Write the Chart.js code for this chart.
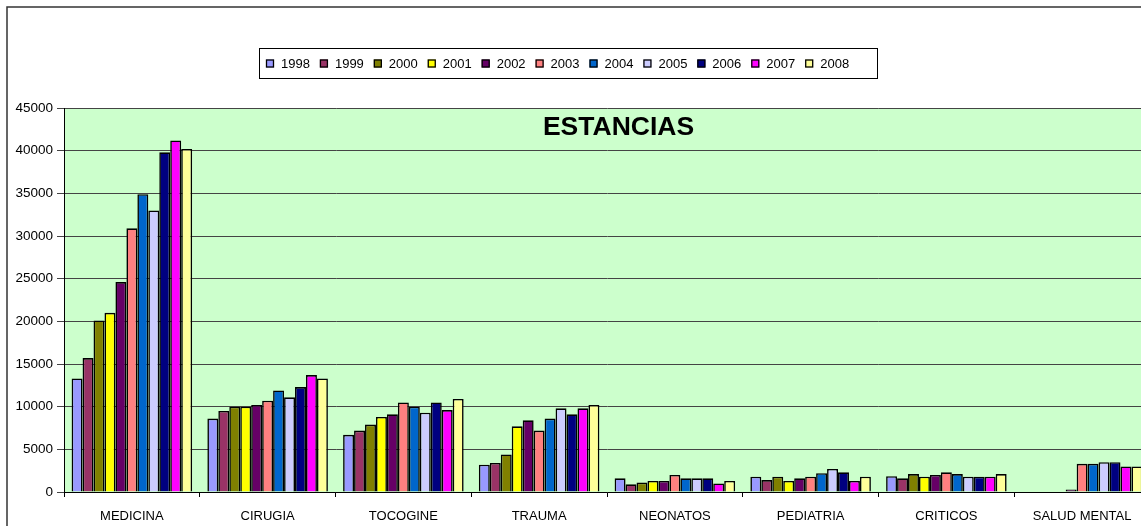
<!DOCTYPE html>
<html>
<head>
<meta charset="utf-8">
<script src="https://cdn.jsdelivr.net/npm/chart.js@4.4.1/dist/chart.umd.min.js"></script>
<style>
  html, body { margin: 0; padding: 0; overflow: hidden; background: #ffffff; }
  #wrap { width: 1150px; height: 526px; }
  canvas { display: block; }
</style>
</head>
<body>
<div id="wrap"><canvas id="c" width="1150" height="526" style="width:1150px;height:526px"></canvas></div>
<script>
const categories = ['MEDICINA', 'CIRUGIA', 'TOCOGINE', 'TRAUMA', 'NEONATOS', 'PEDIATRIA', 'CRITICOS', 'SALUD MENTAL'];
const years = ['1998', '1999', '2000', '2001', '2002', '2003', '2004', '2005', '2006', '2007', '2008'];
const yearColors = ['#9999FF', '#993366', '#808000', '#FFFF00', '#660066', '#FF8080', '#0066CC', '#CCCCFF', '#000080', '#FF00FF', '#FFFF99'];

const v1998 = [13300, 8600, 6700, 3200, 1600, 1800, 1850, 0];
const v1999 = [15700, 9500, 7200, 3400, 900, 1400, 1600, 0];
const v2000 = [20100, 10000, 7900, 4400, 1100, 1800, 2100, 0];
const v2001 = [21000, 10000, 8800, 7700, 1300, 1300, 1800, 0];
const v2002 = [24600, 10200, 9100, 8400, 1300, 1600, 2000, 300];
const v2003 = [30900, 10700, 10500, 7200, 2000, 1800, 2300, 3300];
const v2004 = [34900, 11900, 10000, 8600, 1600, 2200, 2100, 3300];
const v2005 = [33000, 11100, 9300, 9800, 1600, 2700, 1800, 3500];
const v2006 = [39800, 12300, 10500, 9100, 1600, 2300, 1800, 3500];
const v2007 = [41200, 13700, 9600, 9800, 1000, 1300, 1800, 3000];
const v2008 = [40200, 13300, 10900, 10200, 1300, 1800, 2100, 3000];
const seriesValues = [v1998, v1999, v2000, v2001, v2002, v2003, v2004, v2005, v2006, v2007, v2008];

const yMin = 0, yMax = 45000, yStep = 5000;
const chartTitle = 'ESTANCIAS';

const FONT = "'Liberation Sans', Arial, sans-serif";

const datasets = years.map((y, i) => ({
  label: y,
  data: seriesValues[i],
  backgroundColor: yearColors[i],
  borderColor: '#000000',
  borderWidth: 1.6,
  barPercentage: 1.0,
  categoryPercentage: 0.888
}));

const decorPlugin = {
  id: 'decor',
  beforeDraw(chart) {
    const ctx = chart.ctx;
    const a = chart.chartArea;
    ctx.save();
    ctx.fillStyle = '#ffffff';
    ctx.fillRect(0, 0, chart.width, chart.height);
    ctx.strokeStyle = '#333333';
    ctx.lineWidth = 1.5;
    ctx.beginPath();
    ctx.moveTo(7, chart.height + 5);
    ctx.lineTo(7, 7);
    ctx.lineTo(chart.width + 5, 7);
    ctx.stroke();
    ctx.fillStyle = '#CCFFCC';
    ctx.fillRect(a.left, a.top, a.right - a.left, a.bottom - a.top);
    ctx.restore();
  },
  afterDraw(chart) {
    const ctx = chart.ctx;
    ctx.save();
    ctx.font = "bold 26.5px " + FONT;
    ctx.fillStyle = '#000000';
    ctx.textAlign = 'center';
    ctx.textBaseline = 'middle';
    ctx.fillText(chartTitle, 618.5, 128);
    const lx = 259.5, ly = 48.5, lw = 618, lh = 30;
    ctx.fillStyle = '#ffffff';
    ctx.fillRect(lx, ly, lw, lh);
    ctx.strokeStyle = '#000000';
    ctx.lineWidth = 1;
    ctx.strokeRect(lx, ly, lw, lh);
    ctx.font = "13px " + FONT;
    ctx.textAlign = 'left';
    ctx.textBaseline = 'middle';
    let x = 266;
    const cy = 63.5;
    chart.data.datasets.forEach(ds => {
      ctx.fillStyle = ds.backgroundColor;
      ctx.fillRect(x, cy - 4, 8, 8);
      ctx.strokeStyle = '#000000';
      ctx.lineWidth = 1.3;
      ctx.strokeRect(x + 0.5, cy - 3.5, 7, 7);
      ctx.fillStyle = '#000000';
      const tx = x + 15;
      ctx.fillText(ds.label, tx, cy + 0.5);
      x = tx + ctx.measureText(ds.label).width + 10;
    });
    ctx.restore();
  }
};

new Chart(document.getElementById('c'), {
  type: 'bar',
  data: { labels: categories, datasets: datasets },
  options: {
    responsive: false,
    animation: false,
    devicePixelRatio: 1,
    layout: { padding: { top: 108, left: 0, right: 0, bottom: 0 } },
    plugins: {
      legend: { display: false },
      title: { display: false },
      tooltip: { enabled: false }
    },
    scales: {
      x: {
        offset: true,
        grid: { display: true, drawOnChartArea: false, drawTicks: true, tickLength: 5, color: '#000000', offset: true },
        border: { display: true, color: '#000000', width: 1 },
        ticks: { color: '#000000', font: { family: FONT, size: 13 }, padding: 12, maxRotation: 0, autoSkip: false },
        afterFit(scale) { scale.height = 34; }
      },
      y: {
        min: yMin,
        max: yMax,
        grid: { color: '#444444', lineWidth: 1, tickLength: 7, drawTicks: true },
        border: { display: true, color: '#000000', width: 1 },
        ticks: {
          stepSize: yStep,
          color: '#000000',
          font: { family: FONT, size: 13.5 },
          padding: 4,
          callback: v => String(v)
        },
        afterFit(scale) { scale.width = 64; }
      }
    }
  },
  plugins: [decorPlugin]
});
</script>
</body>
</html>
